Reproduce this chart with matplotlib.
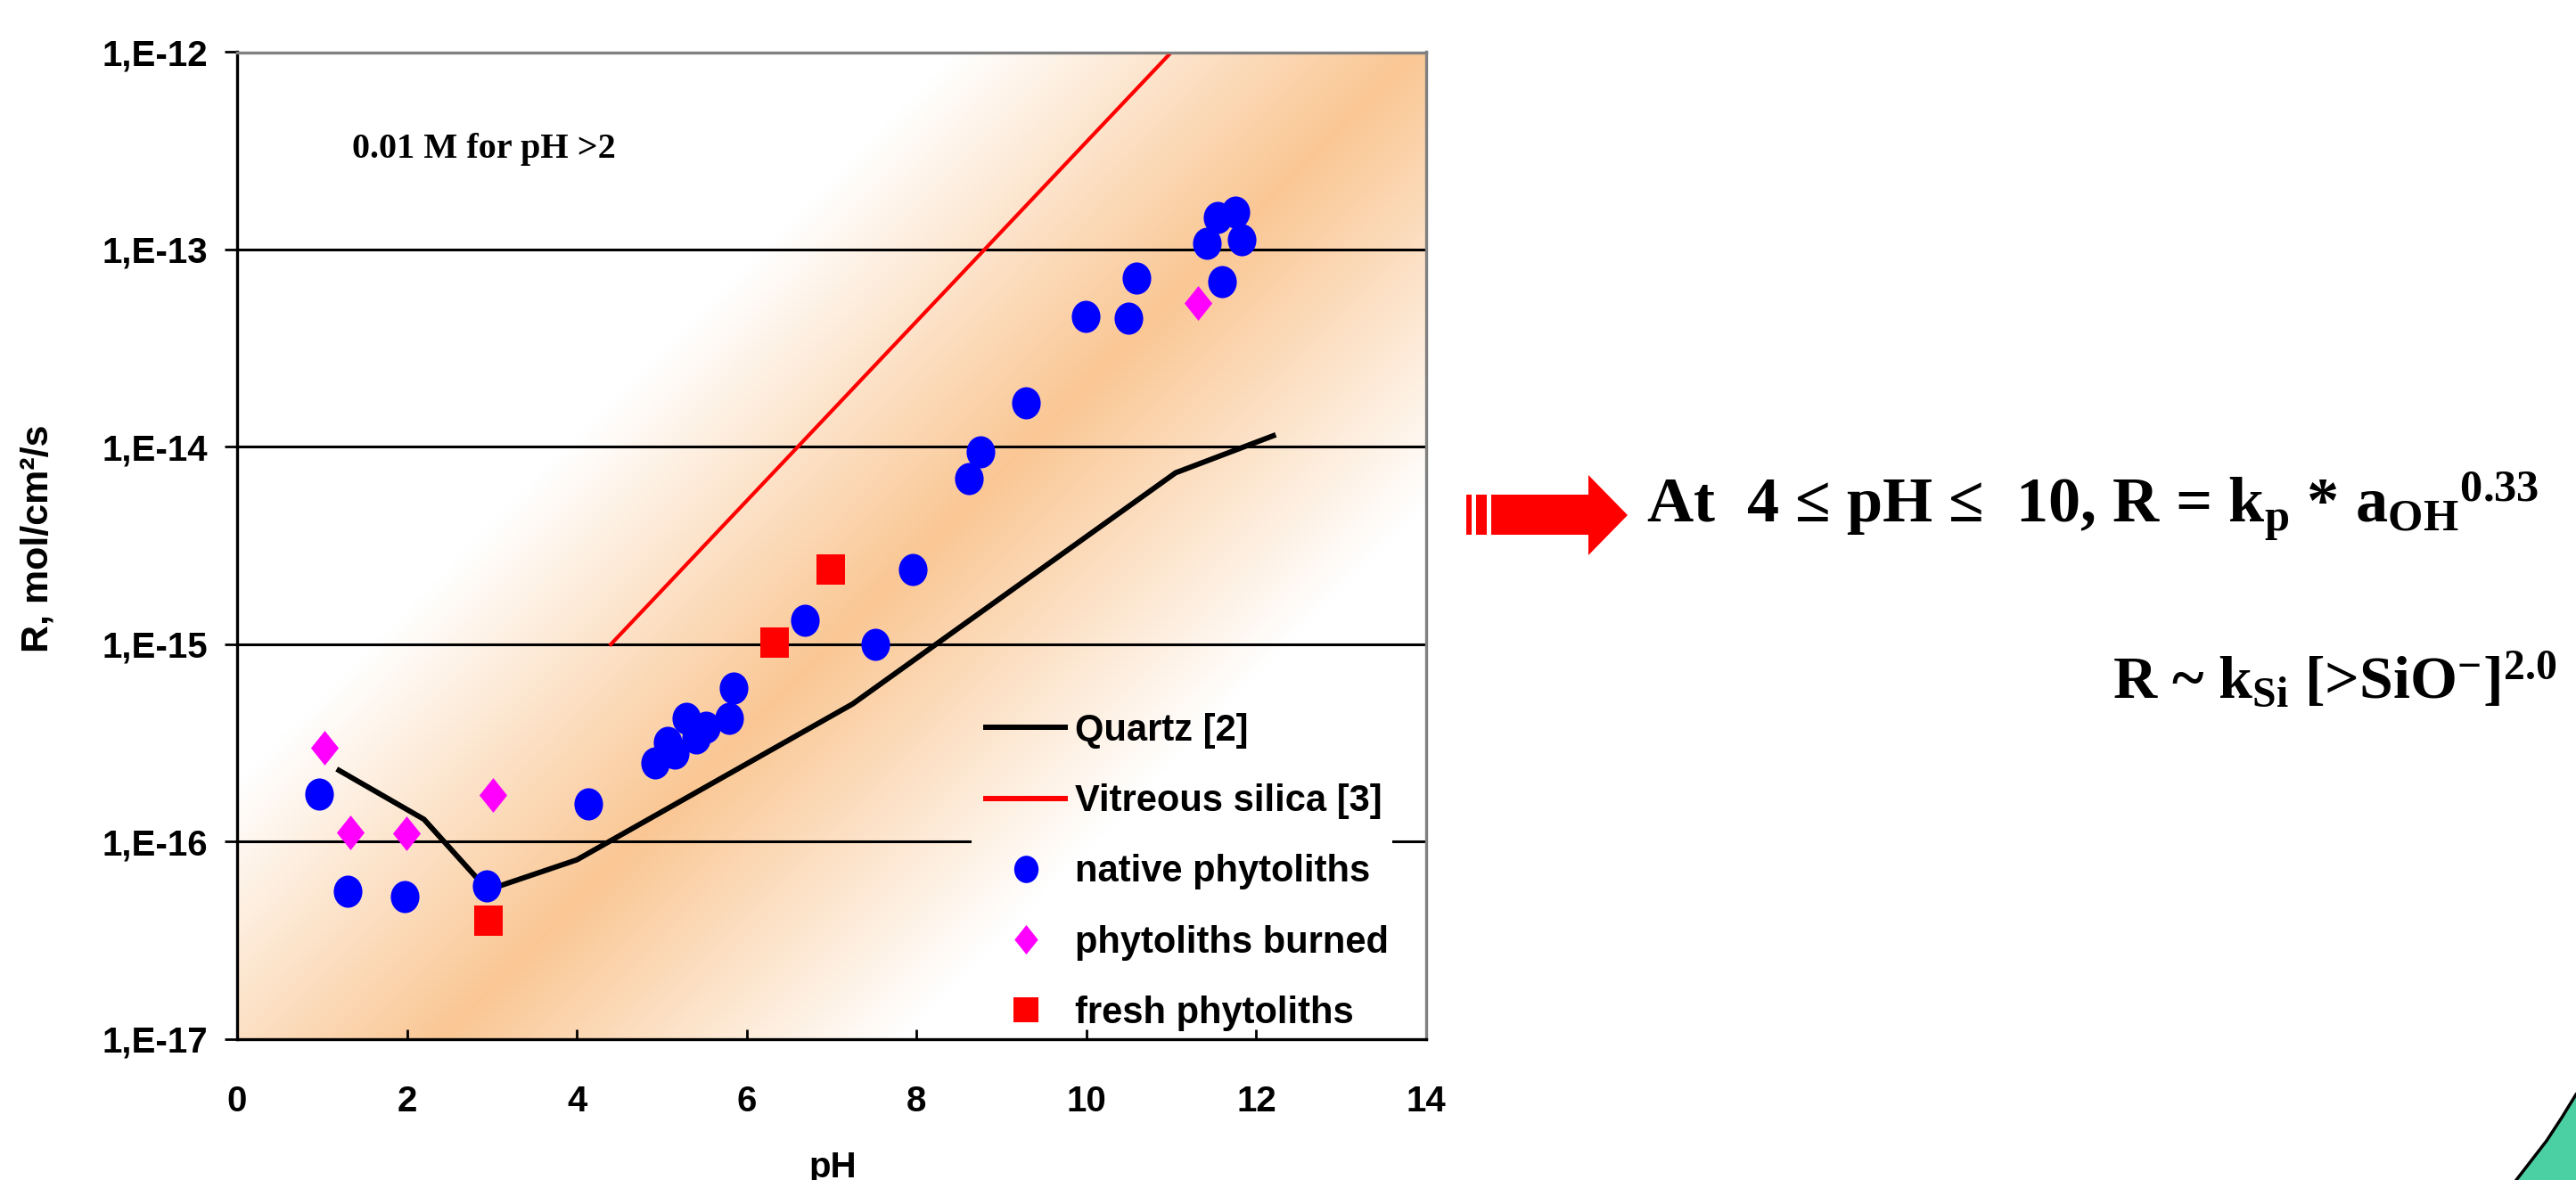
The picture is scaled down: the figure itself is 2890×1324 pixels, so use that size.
import numpy as np
import matplotlib
matplotlib.use("Agg")
from matplotlib import pyplot as plt
from matplotlib.path import Path
from matplotlib.lines import Line2D
from matplotlib.patches import Polygon, Rectangle
from matplotlib.ticker import FixedLocator, FuncFormatter, NullLocator

plt.rcParams['mathtext.fontset'] = 'custom'
plt.rcParams['mathtext.rm'] = 'Liberation Serif:bold'
plt.rcParams['mathtext.it'] = 'Liberation Serif:bold'
plt.rcParams['mathtext.bf'] = 'Liberation Serif:bold'

# data
native_ph = [0.97, 1.30, 1.97, 2.94, 4.14, 4.92, 5.07, 5.15, 5.29, 5.40, 5.52, 5.79, 5.85,
             6.68, 7.51, 7.96, 8.62, 8.75, 9.29, 9.99, 10.49, 10.59, 11.42, 11.54, 11.60,
             11.75, 11.83]
native_R = [1.74e-16, 5.6e-17, 5.3e-17, 6.0e-17, 1.55e-16, 2.5e-16, 3.2e-16, 2.8e-16,
            4.2e-16, 3.35e-16, 3.8e-16, 4.2e-16, 6.0e-16, 1.33e-15, 1.0e-15, 2.4e-15,
            6.9e-15, 9.4e-15, 1.67e-14, 4.6e-14, 4.5e-14, 7.2e-14, 1.08e-13, 1.45e-13,
            6.9e-14, 1.55e-13, 1.12e-13]
burned_ph = [1.03, 1.33, 1.99, 3.01, 11.31]
burned_R = [3.0e-16, 1.12e-16, 1.1e-16, 1.72e-16, 5.35e-14]
fresh_ph = [2.96, 6.33, 6.99]
fresh_R = [4.0e-17, 1.02e-15, 2.4e-15]
quartz_ph = [1.2, 2.2, 2.95, 4.0, 7.25, 11.05, 12.2]
quartz_R = [2.3e-16, 1.3e-16, 5.7e-17, 8.1e-17, 5.0e-16, 7.4e-15, 1.14e-14]
vitreous_ph = [4.4, 11.0]
vitreous_R = [1.0e-15, 1.0e-12]

W, H = 2890, 1324
fig = plt.figure(figsize=(W / 100, H / 100), dpi=100)


def fx(x):
    return x / W


def fy(y):
    return 1 - y / H


ax = fig.add_axes([fx(266), fy(1166), (1600 - 266) / W, (1166 - 58.5) / H])
ax.set_yscale('log')
ax.set_xlim(0, 14)
ax.set_ylim(1e-17, 1e-12)

# peach gradient band in the plot area
nx, ny = 500, 420
gx, gy = np.meshgrid(np.linspace(0, 1334, nx), np.linspace(0, 1107, ny))
p0 = np.array([230.0, 0.0])
p1 = np.array([1320.0, 1107.0])
u = (p1 - p0) / np.linalg.norm(p1 - p0)
d = (gx - p0[0]) * u[1] - (gy - p0[1]) * u[0]
inten = np.clip(1 - np.abs(d) / 365.0, 0, 1)
peach = np.array([250, 199, 148]) / 255.0
img = 1 - inten[..., None] * (1 - peach)
ax.imshow(img, extent=[0, 1, 0, 1], transform=ax.transAxes, origin='lower',
          aspect='auto', zorder=0, interpolation='bilinear')

# gridlines (gap at 1e-16 behind the legend)
for lev in [1e-13, 1e-14, 1e-15]:
    ax.axhline(lev, color='black', lw=2.2, zorder=1)
ax.axhline(1e-16, xmax=0.616, color='black', lw=2.2, zorder=1)
ax.axhline(1e-16, xmin=0.972, color='black', lw=2.2, zorder=1)

ax.plot(vitreous_ph, vitreous_R, color='#ff0000', lw=3, zorder=2)
ax.plot(quartz_ph, quartz_R, color='black', lw=4.3, zorder=2)

ell = Path.unit_circle()
ell = Path(ell.vertices * [0.445, 0.5], ell.codes)
diamond = Path([(0, 0.5), (0.4, 0), (0, -0.5), (-0.4, 0), (0, 0.5)],
               [Path.MOVETO, Path.LINETO, Path.LINETO, Path.LINETO, Path.CLOSEPOLY])
square = Path([(-0.47, -0.5), (0.47, -0.5), (0.47, 0.5), (-0.47, 0.5), (-0.47, -0.5)],
              [Path.MOVETO, Path.LINETO, Path.LINETO, Path.LINETO, Path.CLOSEPOLY])

ax.plot(native_ph, native_R, ls='none', marker=ell, ms=26, color='#0000ff', mew=0, zorder=3)
ax.plot(burned_ph, burned_R, ls='none', marker=diamond, ms=28, color='#ff00ff', mew=0, zorder=3)
ax.plot(fresh_ph, fresh_R, ls='none', marker=square, ms=24.5, color='#ff0000', mew=0, zorder=3)

for s in ['left', 'bottom']:
    ax.spines[s].set_color('black')
    ax.spines[s].set_linewidth(2.4)
for s in ['top', 'right']:
    ax.spines[s].set_color('#808080')
    ax.spines[s].set_linewidth(2.4)

ax.xaxis.set_major_locator(FixedLocator(list(range(0, 15, 2))))
ax.yaxis.set_major_locator(FixedLocator([1e-17, 1e-16, 1e-15, 1e-14, 1e-13, 1e-12]))
ax.yaxis.set_minor_locator(NullLocator())
ax.yaxis.set_major_formatter(FuncFormatter(lambda v, p: "1,E%d" % round(np.log10(v))))
ax.tick_params(axis='y', direction='out', length=10, width=2, pad=14)
ax.tick_params(axis='x', direction='in', length=8, width=2, pad=37)
for lab in ax.get_xticklabels() + ax.get_yticklabels():
    lab.set_fontfamily('Liberation Sans')
    lab.set_fontweight('bold')
    lab.set_fontsize(29)

fig.text(fx(934), fy(1321), 'pH', ha='center', va='baseline', fontsize=29,
         fontfamily='Liberation Sans', fontweight='bold')
fig.text(fx(43), fy(604), 'R, mol/cm²/s', rotation=90, ha='center', va='center', fontsize=31,
         fontfamily='Liberation Sans', fontweight='bold')

handles = [
    Line2D([], [], color='black', lw=4.3),
    Line2D([], [], color='#ff0000', lw=4.3),
    Line2D([], [], ls='none', marker=ell, ms=26, color='#0000ff', mew=0),
    Line2D([], [], ls='none', marker=diamond, ms=28, color='#ff00ff', mew=0),
    Line2D([], [], ls='none', marker=square, ms=24.5, color='#ff0000', mew=0),
]
labels = ['Quartz [2]', 'Vitreous silica [3]', 'native phytoliths', 'phytoliths burned',
          'fresh phytoliths']
fig.legend(handles, labels, loc='upper left', bbox_to_anchor=(fx(1106), fy(800)),
           frameon=False, borderpad=0, borderaxespad=0, handlelength=2.14,
           handletextpad=0.26, labelspacing=0.94, markerscale=0.85,
           prop={'family': 'Liberation Sans', 'weight': 'bold', 'size': 30})

fig.text(fx(395), fy(177), '0.01 M for pH >2', ha='left', va='baseline', fontsize=29,
         fontfamily=['Liberation Serif', 'DejaVu Serif'], fontweight='bold')

fig.text(fx(1847), fy(587), r'At  4 ≤ pH ≤  10, R = k$_{\mathrm{p}}$ * a$_{\mathrm{OH}}{}^{0.33}$',
         ha='left', va='baseline', fontsize=52,
         fontfamily=['Liberation Serif', 'DejaVu Serif'], fontweight='bold')
fig.text(fx(2370), fy(783), r'R ~ k$_{\mathrm{Si}}$ [>SiO$^{\mathrm{-}}$]$^{2.0}$',
         ha='left', va='baseline', fontsize=49,
         fontfamily=['Liberation Serif', 'DejaVu Serif'], fontweight='bold')

# red block arrow with stripes
arrow_px = [(1673, 555), (1782, 555), (1782, 533), (1826, 578), (1782, 623), (1782, 600), (1673, 600)]
fig.patches.append(Polygon([(fx(a), fy(b)) for a, b in arrow_px], closed=True,
                           transform=fig.transFigure, facecolor='#ff0000', edgecolor='none'))
for x0, x1 in [(1645, 1651), (1656, 1668)]:
    fig.patches.append(Rectangle((fx(x0), fy(600)), fx(x1 - x0), 45 / H,
                                 transform=fig.transFigure, facecolor='#ff0000', edgecolor='none'))

# teal corner shape
curve = [(2823, 1324), (2840, 1302), (2857, 1280), (2874, 1254), (2890, 1228)]
fig.patches.append(Polygon([(fx(a), fy(b)) for a, b in curve + [(2890, 1324)]], closed=True,
                           transform=fig.transFigure, facecolor='#4bd0a3', edgecolor='none'))
fig.lines.append(Line2D([fx(a) for a, b in curve], [fy(b) for a, b in curve],
                        transform=fig.transFigure, color='black', lw=2.5))

fig.savefig('out.png', dpi=100)
